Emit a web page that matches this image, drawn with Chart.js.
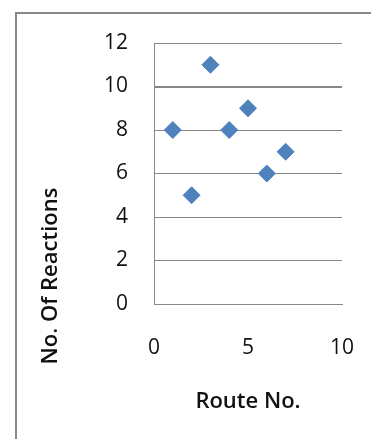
<!DOCTYPE html>
<html>
<head>
<meta charset="utf-8">
<script src="https://cdn.jsdelivr.net/npm/chart.js@4.4.1/dist/chart.umd.min.js"></script>
<style>
  html, body { margin: 0; padding: 0; background: #fff; overflow: hidden; }
  #wrap { position: relative; width: 371px; height: 439px; }
  #frame {
    position: absolute; left: 15px; top: 12px; width: 420px; height: 500px;
    border-left: 2.5px solid #888; border-top: 2.5px solid #888;
  }
  canvas { position: absolute; left: 0; top: 0; }
</style>
</head>
<body>
<div id="wrap">
  <div id="frame"></div>
  <canvas id="routeChart" width="371" height="439"></canvas>
</div>
<script>
// data
const routeNo = [1, 2, 3, 4, 5, 6, 7];
const reactions = [8, 5, 11, 8, 9, 6, 7];
const xTicks = [0, 5, 10];
const yTicks = [0, 2, 4, 6, 8, 10, 12];

const xTitle = 'Route No.';
const yTitle = 'No. Of Reactions';

const fontFamily = '"Open Sans", Lato, sans-serif';

// y title sits lower than the plot middle, so draw it by hand
const yTitlePlugin = {
    id: 'yTitle',
    afterDraw(chart) {
        const ctx = chart.ctx;
        ctx.save();
        ctx.translate(51, 276);
        ctx.rotate(-Math.PI / 2);
        ctx.font = '600 22px ' + fontFamily;
        ctx.fillStyle = '#111';
        ctx.textAlign = 'center';
        ctx.textBaseline = 'middle';
        ctx.fillText(yTitle, 0, 0);
        ctx.restore();
    }
};

const points = routeNo.map((x, i) => ({ x: x, y: reactions[i] }));

let routeChart = new Chart(document.getElementById('routeChart'), {
    type: 'scatter',
    data: {
        datasets: [{
            label: 'Reactions',
            data: points,
            pointStyle: 'rectRot',
            pointRadius: 8.5,
            pointBorderWidth: 1,
            backgroundColor: '#4F81BD',
            borderColor: '#4F81BD'
        }]
    },
    options: {
        responsive: false,
        animation: false,
        events: [],
        layout: {
            padding: { left: 0, right: 29, top: 43, bottom: 0 }
        },
        plugins: {
            legend: { display: false },
            tooltip: { enabled: false }
        },
        scales: {
            x: {
                type: 'linear',
                min: 0,
                max: 10,
                afterBuildTicks: (scale) => { scale.ticks = xTicks.map(v => ({ value: v })); },
                afterFit: (scale) => {
                    scale.height = 135;
                    // tick padding is pushed sideways too, drop it
                    scale.paddingLeft = 0;
                    scale.paddingRight = 0;
                },
                grid: { display: false, drawTicks: false },
                border: { display: true, color: '#868686', width: 1 },
                ticks: {
                    padding: 31,
                    color: '#111',
                    font: { family: fontFamily, size: 21 }
                },
                title: {
                    display: true,
                    text: xTitle,
                    color: '#111',
                    padding: { top: 0, bottom: 24 },
                    font: { family: fontFamily, size: 22, weight: '600' }
                }
            },
            y: {
                min: 0,
                max: 12,
                afterBuildTicks: (scale) => { scale.ticks = yTicks.map(v => ({ value: v })); },
                afterFit: (scale) => { scale.width = 154; },
                grid: {
                    color: '#868686',
                    lineWidth: (ctx) => (ctx.tick && ctx.tick.value === 10 ? 2 : 1),
                    drawTicks: false
                },
                border: { display: true, color: '#868686', width: 1 },
                ticks: {
                    padding: 26,
                    color: '#111',
                    font: { family: fontFamily, size: 21 }
                }
            }
        }
    },
    plugins: [yTitlePlugin]
});
</script>
</body>
</html>
